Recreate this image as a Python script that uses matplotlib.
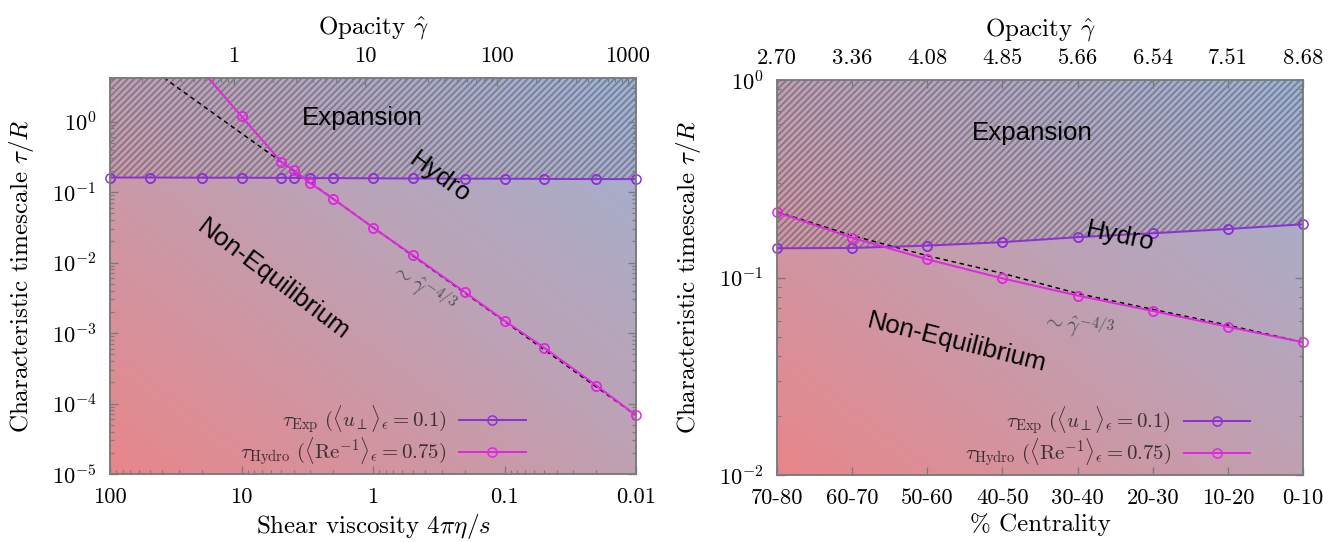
import numpy as np
import matplotlib.pyplot as plt
from matplotlib.colors import LinearSegmentedColormap
from matplotlib.ticker import FixedLocator, FixedFormatter, LogLocator, NullFormatter, NullLocator

plt.rcParams['font.family'] = ['cmr10']
plt.rcParams['mathtext.fontset'] = 'cm'
plt.rcParams['axes.formatter.use_mathtext'] = True
plt.rcParams['axes.unicode_minus'] = False
plt.rcParams['hatch.linewidth'] = 1.1

# ---- left panel: scan in shear viscosity ----
eta = [100, 50, 20, 10, 5, 4, 3, 2, 1, 0.5, 0.2, 0.1, 0.05, 0.02, 0.01]
tau_exp = [0.161, 0.161, 0.160, 0.160, 0.159, 0.159, 0.158, 0.158, 0.157,
           0.156, 0.155, 0.155, 0.154, 0.153, 0.153]
eta_hydro = [20, 10, 5, 4, 3, 2, 1, 0.5, 0.2, 0.1, 0.05, 0.02, 0.01]
tau_hydro = [5.3, 1.19, 0.27, 0.205, 0.134, 0.080, 0.0314, 0.0128, 0.0038,
             0.0015, 6.2e-4, 1.8e-4, 6.8e-5]
eta_fit = [100, 0.01]
tau_fit = [14.7, 6.8e-5]
gamma_per_eta = 11.5          # opacity = 11.5 / (4 pi eta/s)
eta_ticks = [100, 10, 1, 0.1, 0.01]
eta_ticklabels = ['100', '10', '1', '0.1', '0.01']
gamma_ticks = [1, 10, 100, 1000]
gamma_ticklabels = ['1', '10', '100', '1000']

# ---- right panel: centrality classes ----
centrality = ['70-80', '60-70', '50-60', '40-50', '30-40', '20-30', '10-20', '0-10']
opacity = ['2.70', '3.36', '4.08', '4.85', '5.66', '6.54', '7.51', '8.68']
tau_exp_c = [0.1406, 0.1411, 0.145, 0.151, 0.160, 0.1675, 0.176, 0.186]
tau_hydro_c = [0.214, 0.159, 0.1236, 0.099, 0.081, 0.0677, 0.0563, 0.047]
tau_fit_c = [0.215, 0.163, 0.129, 0.105, 0.083, 0.069, 0.0574, 0.047]

c_exp = '#8c32d2'
c_hydro = '#e028e0'
lab_exp = r'$\tau_{\mathrm{Exp}}\ (\langle u_{\perp}\rangle_{\epsilon}=0.1)$'
lab_hydro = r'$\tau_{\mathrm{Hydro}}\ (\langle \mathrm{Re}^{-1}\rangle_{\epsilon}=0.75)$'
sans = 'Liberation Sans'
hatch_col = (0.25, 0.27, 0.35, 0.45)

cmap = LinearSegmentedColormap.from_list('bg', ['#e8868a', '#c0a0b2', '#9fb3d3'])
gx, gy = np.meshgrid(np.linspace(0, 1, 300), np.linspace(0, 1, 300))
grad = (gx + gy) / 2

fig = plt.figure(figsize=(11.2, 542 / 120), dpi=120)


def make_axes(rect):
    bg = fig.add_axes(rect, zorder=0)
    bg.imshow(grad, cmap=cmap, extent=[0, 1, 0, 1], origin='lower',
              aspect='auto', interpolation='bilinear')
    bg.set_axis_off()
    ax = fig.add_axes(rect, zorder=1)
    ax.set_facecolor('none')
    return ax


def style(ax):
    for s in ax.spines.values():
        s.set_color('#7a7a7a')
        s.set_linewidth(0.9)
    ax.tick_params(which='both', direction='in', colors='#7a7a7a',
                   labelcolor='black', labelsize=13.5)
    ax.tick_params(which='major', length=5, width=0.8)
    ax.tick_params(which='minor', length=2.5, width=0.7)


def series(ax, x, y, color, label, top):
    ax.plot(x, y, color=color, lw=1.2, marker='o', ms=5.5, mfc='none',
            mew=0.9, label=label)
    xi = [a for a, b in zip(x, y) if b <= top]
    yi = [b for b in y if b <= top]
    ax.plot(xi, yi, ls='none', marker='o', ms=5.5, mfc='none', mec=color,
            mew=0.9, clip_on=False)


def dec_fmt(vals):
    return [r'$10^{%d}$' % round(np.log10(v)) for v in vals]


# ======== left ========
ax1 = make_axes([110 / 1344, 68 / 542, 526 / 1344, 396 / 542])
ytop1 = 4.16
ax1.set_xscale('log')
ax1.set_yscale('log')
ax1.fill_between(eta, tau_exp, 10, facecolor='none', hatch='//////',
                 edgecolor=hatch_col, linewidth=0)
ax1.plot(eta_fit, tau_fit, color='black', lw=0.9, ls=(0, (3, 2.5)))
series(ax1, eta, tau_exp, c_exp, lab_exp, ytop1)
series(ax1, eta_hydro, tau_hydro, c_hydro, lab_hydro, ytop1)
ax1.set_xlim(100, 0.01)
ax1.set_ylim(1e-5, ytop1)
style(ax1)
ax1.xaxis.set_major_locator(FixedLocator(eta_ticks))
ax1.xaxis.set_major_formatter(FixedFormatter(eta_ticklabels))
ax1.xaxis.set_minor_locator(LogLocator(subs=np.arange(2, 10)))
ax1.xaxis.set_minor_formatter(NullFormatter())
yt = [1e-5, 1e-4, 1e-3, 1e-2, 1e-1, 1]
ax1.yaxis.set_major_locator(FixedLocator(yt))
ax1.yaxis.set_major_formatter(FixedFormatter(dec_fmt(yt)))
ax1.yaxis.set_minor_locator(LogLocator(subs=np.arange(2, 10)))
ax1.yaxis.set_minor_formatter(NullFormatter())
ax1.tick_params(which='both', right=True, top=False, pad=8)
ax1.set_xlabel(r'Shear viscosity $4\pi\eta/s$', fontsize=15, labelpad=3)
ax1.set_ylabel(r'Characteristic timescale $\tau/R$', fontsize=15)
ax1.yaxis.set_label_coords(-0.14, 0.5)

t1 = ax1.twiny()
t1.set_xscale('log')
t1.set_xlim(gamma_per_eta / 100, gamma_per_eta / 0.01)
style(t1)
t1.xaxis.set_major_locator(FixedLocator(gamma_ticks))
t1.xaxis.set_major_formatter(FixedFormatter(gamma_ticklabels))
t1.xaxis.set_minor_locator(LogLocator(subs=np.arange(2, 10)))
t1.xaxis.set_minor_formatter(NullFormatter())
t1.tick_params(which='both', pad=7)
t1.set_xlabel(r'Opacity $\hat{\gamma}$', fontsize=15, labelpad=8)

ax1.text(0.479, 0.899, 'Expansion', transform=ax1.transAxes, fontsize=15.5,
         family=sans, ha='center', va='center')
ax1.text(0.627, 0.748, 'Hydro', transform=ax1.transAxes, fontsize=15.5,
         family=sans, ha='center', va='center', rotation=-36)
ax1.text(0.31, 0.49, 'Non-Equilibrium', transform=ax1.transAxes, fontsize=15.5,
         family=sans, ha='center', va='center', rotation=-37)
ax1.text(0.595, 0.47, r'$\sim\hat{\gamma}^{-4/3}$', transform=ax1.transAxes,
         fontsize=13, color='#505050', ha='center', va='center', rotation=-35)
ax1.legend(loc='lower right', bbox_to_anchor=(0.79, 0.015), markerfirst=False,
           frameon=False, fontsize=12.5, handlelength=3.2, borderpad=0,
           borderaxespad=0, labelspacing=0.0, handletextpad=0.6,
           labelcolor='#3c2f35')

# ======== right ========
ax2 = make_axes([777 / 1344, 67 / 542, 526 / 1344, 395 / 542])
x = np.arange(len(centrality))
ax2.set_yscale('log')
ax2.fill_between(x, tau_exp_c, 1, facecolor='none', hatch='//////',
                 edgecolor=hatch_col, linewidth=0)
ax2.plot(x, tau_fit_c, color='black', lw=0.9, ls=(0, (3, 2.5)))
series(ax2, x, tau_exp_c, c_exp, lab_exp, 1)
series(ax2, x, tau_hydro_c, c_hydro, lab_hydro, 1)
ax2.set_xlim(0, len(centrality) - 1)
ax2.set_ylim(0.01, 1)
style(ax2)
ax2.set_xticks(x)
ax2.set_xticklabels(centrality)
yt2 = [0.01, 0.1, 1]
ax2.yaxis.set_major_locator(FixedLocator(yt2))
ax2.yaxis.set_major_formatter(FixedFormatter(dec_fmt(yt2)))
ax2.yaxis.set_minor_locator(LogLocator(subs=np.arange(2, 10)))
ax2.yaxis.set_minor_formatter(NullFormatter())
ax2.tick_params(which='both', right=True, top=False, pad=8)
ax2.set_xlabel(r'% Centrality', fontsize=15, labelpad=3)
ax2.set_ylabel(r'Characteristic timescale $\tau/R$', fontsize=15)
ax2.yaxis.set_label_coords(-0.14, 0.5)

t2 = ax2.twiny()
t2.set_xlim(0, len(centrality) - 1)
style(t2)
t2.set_xticks(x)
t2.set_xticklabels(opacity)
t2.xaxis.set_minor_locator(NullLocator())
t2.tick_params(which='both', pad=7)
t2.set_xlabel(r'Opacity $\hat{\gamma}$', fontsize=15, labelpad=8)

ax2.text(0.485, 0.866, 'Expansion', transform=ax2.transAxes, fontsize=15.5,
         family=sans, ha='center', va='center')
ax2.text(0.652, 0.605, 'Hydro', transform=ax2.transAxes, fontsize=15.5,
         family=sans, ha='center', va='center', rotation=-12)
ax2.text(0.342, 0.334, 'Non-Equilibrium', transform=ax2.transAxes, fontsize=15.5,
         family=sans, ha='center', va='center', rotation=-14)
ax2.text(0.572, 0.377, r'$\sim\hat{\gamma}^{-4/3}$', transform=ax2.transAxes,
         fontsize=13, color='#505050', ha='center', va='center', rotation=-10)
ax2.legend(loc='lower right', bbox_to_anchor=(0.9, 0.015), markerfirst=False,
           frameon=False, fontsize=12.5, handlelength=3.2, borderpad=0,
           borderaxespad=0, labelspacing=0.0, handletextpad=0.6,
           labelcolor='#3c2f35')

fig.savefig('out.png', dpi=120)
